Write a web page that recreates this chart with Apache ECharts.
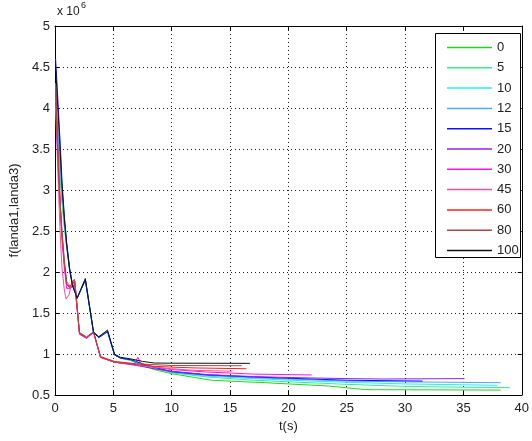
<!DOCTYPE html>
<html><head><meta charset="utf-8">
<script src="https://cdn.jsdelivr.net/npm/echarts@6/dist/echarts.min.js"></script>
<style>html,body{margin:0;padding:0;background:#fff}#c{width:532px;height:441px}</style>
</head><body><div id="c"></div>
<script>
const names = ['0','5','10','12','15','20','30','45','60','80','100'];
const colors = ['#22d622','#33f08a','#1ff0f0','#4da6ff','#1010ff','#9020f0','#ff10ff','#f0509a','#ff2020','#a84848','#111111'];
const xTicks = {min:0, max:40, step:5};
const yTicks = {min:0.5, max:5, step:0.5};
// values in units of 10^6
const s0 = [[0.05,4.05],[0.2,3.7],[0.4,3.25],[0.6,2.85],[0.8,2.55],[1.0,2.3],[1.25,2.02],[1.5,1.83],[1.9,1.69],[2.6,1.9],[3.3,1.27],[3.75,1.21],[4.5,1.29],[5.1,0.99],[5.6,0.95],[6.5,0.92],[7.5,0.86],[8.5,0.81],[10,0.76],[13.4,0.68],[18,0.65],[23.4,0.61],[26.6,0.565],[38.2,0.56]];
const s5 = [[0.05,4.1],[0.2,3.75],[0.4,3.3],[0.6,2.9],[0.8,2.58],[1.0,2.32],[1.25,2.03],[1.5,1.84],[1.9,1.69],[2.6,1.91],[3.3,1.27],[3.75,1.2],[4.5,1.28],[5.1,0.99],[5.6,0.95],[6.5,0.93],[7.5,0.87],[8.5,0.82],[10,0.77],[13,0.72],[17,0.68],[21,0.655],[25,0.63],[30,0.605],[35,0.595],[39,0.59]];
const s10 = [[0.05,4.2],[0.2,3.8],[0.4,3.35],[0.6,2.95],[0.8,2.6],[1.0,2.33],[1.25,2.04],[1.5,1.84],[1.9,1.68],[2.6,1.91],[3.3,1.26],[3.75,1.2],[4.5,1.28],[5.1,0.99],[5.6,0.95],[6.5,0.93],[7.5,0.88],[8.5,0.83],[10,0.775],[13,0.73],[17,0.70],[21,0.675],[25,0.655],[30,0.635],[37.9,0.618]];
const s12 = [[0.05,4.3],[0.2,3.85],[0.4,3.4],[0.6,2.98],[0.8,2.62],[1.0,2.34],[1.25,2.04],[1.5,1.84],[1.9,1.68],[2.6,1.91],[3.3,1.26],[3.75,1.2],[4.5,1.28],[5.1,0.99],[5.6,0.95],[6.5,0.93],[7.5,0.88],[8.5,0.83],[10,0.78],[13,0.74],[17,0.71],[21,0.69],[25,0.67],[30,0.66],[38.2,0.65]];
const s15 = [[0.05,4.6],[0.15,4.35],[0.3,3.95],[0.45,3.55],[0.6,3.1],[0.8,2.68],[1.0,2.36],[1.25,2.05],[1.5,1.85],[1.9,1.68],[2.6,1.9],[3.3,1.26],[3.75,1.2],[4.5,1.27],[5.1,0.99],[5.6,0.95],[6.5,0.93],[7.5,0.88],[8.5,0.84],[10,0.785],[13,0.745],[17,0.72],[21,0.70],[25,0.68],[31.5,0.67]];
const s20 = [[0.05,4.2],[0.15,3.8],[0.3,3.25],[0.45,2.8],[0.6,2.45],[0.8,2.1],[1.0,1.85],[1.3,1.8],[1.7,1.85],[2.1,1.24],[2.7,1.19],[3.3,1.26],[3.9,0.96],[5.1,0.9],[7,0.86],[8.5,0.82],[10,0.79],[13,0.75],[17,0.725],[21,0.71],[25,0.70],[28,0.695],[35.1,0.70]];
const s30 = [[0.05,4.15],[0.15,3.75],[0.3,3.2],[0.45,2.75],[0.6,2.4],[0.8,2.05],[1.0,1.8],[1.3,1.8],[1.7,1.88],[2.1,1.25],[2.7,1.2],[3.3,1.27],[3.9,0.96],[5.1,0.9],[6.8,0.88],[7.1,0.96],[7.4,0.87],[8.5,0.84],[10,0.81],[13,0.78],[17,0.755],[22,0.744]];
const s45 = [[0.05,4.0],[0.15,3.6],[0.3,3.0],[0.45,2.45],[0.6,2.05],[0.8,1.78],[0.95,1.67],[1.2,1.72],[1.4,1.85],[1.7,1.88],[2.1,1.26],[2.7,1.2],[3.3,1.27],[3.9,0.96],[5.1,0.9],[7,0.87],[8.5,0.84],[10,0.82],[12,0.80],[15.2,0.79]];
const s60 = [[0.05,4.25],[0.15,3.8],[0.3,3.25],[0.45,2.8],[0.6,2.45],[0.8,2.1],[1.0,1.85],[1.3,1.82],[1.65,1.91],[2.1,1.25],[2.7,1.2],[3.3,1.27],[3.9,0.96],[5.1,0.9],[7,0.87],[8.5,0.85],[10,0.84],[12,0.83],[16.4,0.82]];
const s80 = [[0.05,4.3],[0.15,3.85],[0.3,3.3],[0.45,2.85],[0.6,2.5],[0.8,2.15],[1.0,1.88],[1.3,1.83],[1.7,1.89],[2.1,1.26],[2.7,1.21],[3.3,1.27],[3.9,0.97],[5.1,0.91],[7,0.88],[8.5,0.87],[10,0.86],[16.0,0.857]];
const s100 = [[0.05,4.5],[0.15,4.25],[0.3,3.85],[0.45,3.45],[0.6,3.05],[0.8,2.65],[1.0,2.33],[1.25,2.03],[1.5,1.83],[1.9,1.68],[2.6,1.92],[3.3,1.27],[3.75,1.21],[4.5,1.29],[5.1,1.0],[5.6,0.96],[6.5,0.94],[7.5,0.91],[8.5,0.89],[10,0.888],[16.7,0.886]];
const allData = [s0,s5,s10,s12,s15,s20,s30,s45,s60,s80,s100];

const chart = echarts.init(document.getElementById('c'), null, {renderer:'canvas'});
const font = 'Liberation Sans, Arial, sans-serif';
const axisCommon = {
  axisLine:{show:true, onZero:false, lineStyle:{color:'#000', width:1}},
  axisTick:{show:true, inside:true, length:4, lineStyle:{color:'#000'}},
  splitLine:{show:false},
  axisLabel:{show:false}
};
const opt = {
  animation:false,
  backgroundColor:'#fff',
  grid:{left:55, top:26, right:7, bottom:46, containLabel:false},
  xAxis:[
    Object.assign({}, axisCommon, {type:'value', min:xTicks.min, max:xTicks.max, interval:xTicks.step, position:'bottom',
      name:'t(s)', nameLocation:'middle', nameGap:23, nameTextStyle:{fontFamily:font, fontSize:13, color:'#222'},
      axisLabel:{show:true, margin:7, fontFamily:font, fontSize:13, color:'#222'},
      splitLine:{show:true, lineStyle:{color:'#222', type:[1,3], width:1}}}),
    Object.assign({}, axisCommon, {type:'value', min:xTicks.min, max:xTicks.max, interval:xTicks.step, position:'top'})
  ],
  yAxis:[
    Object.assign({}, axisCommon, {type:'value', min:yTicks.min, max:yTicks.max, interval:yTicks.step, position:'left',
      name:'f(landa1,landa3)', nameLocation:'middle', nameGap:33, nameTextStyle:{fontFamily:font, fontSize:13, color:'#222'},
      axisLabel:{show:true, margin:5, fontFamily:font, fontSize:13, color:'#222'},
      splitLine:{show:true, lineStyle:{color:'#222', type:[1,3], width:1}}}),
    Object.assign({}, axisCommon, {type:'value', min:yTicks.min, max:yTicks.max, interval:yTicks.step, position:'right'})
  ],
  legend:{
    orient:'vertical', left:442, top:35, itemWidth:45, itemHeight:1.5, itemGap:5.3, icon:'rect',
    data:names, textStyle:{fontFamily:font, fontSize:13, color:'#222', lineHeight:15}, z:10,
    selectedMode:false
  },
  graphic:[
    {type:'rect', z:5, shape:{x:435.5, y:33.5, width:85, height:224}, style:{fill:'#fff', stroke:'#000', lineWidth:1}},
    {type:'text', z:5, left:57, top:6, style:{text:'x 10', font:'12px '+font, fill:'#222'}},
    {type:'text', z:5, left:81, top:1, style:{text:'6', font:'9px '+font, fill:'#222'}}
  ],
  series: names.map((n,i)=>({
    name:n, type:'line', data:allData[i], symbol:'none', showSymbol:false,
    lineStyle:{width:1, color:colors[i]}, itemStyle:{color:colors[i]}, z:2+i*0.01
  }))
};
chart.setOption(opt);
</script></body></html>
